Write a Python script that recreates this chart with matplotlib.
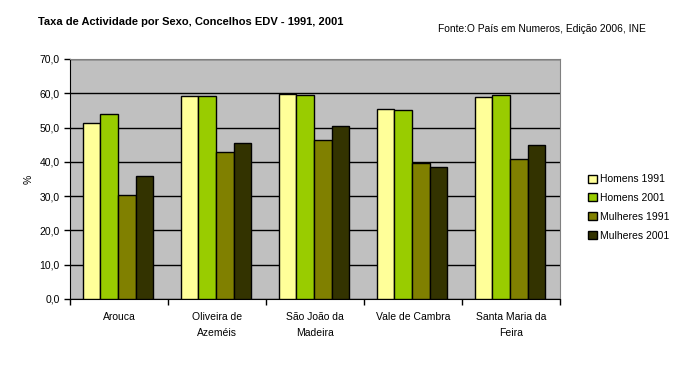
import numpy as np
import matplotlib.pyplot as plt
from matplotlib.ticker import FuncFormatter

plt.rcParams['font.family'] = ['Liberation Sans', 'DejaVu Sans']

concelhos = ["Arouca", "Oliveira de\nAzeméis", "São João da\nMadeira", "Vale de Cambra", "Santa Maria da\nFeira"]
series_names = ["Homens 1991", "Homens 2001", "Mulheres 1991", "Mulheres 2001"]
homens_1991 = [51.2, 59.1, 59.8, 55.3, 58.8]
homens_2001 = [54.1, 59.1, 59.4, 55.0, 59.4]
mulheres_1991 = [30.2, 42.8, 46.4, 39.8, 40.7]
mulheres_2001 = [35.8, 45.4, 50.4, 38.4, 44.8]
colors = ["#FFFF99", "#99CC00", "#808000", "#333300"]

fig = plt.figure(figsize=(6.77, 3.81), dpi=100)
ax = fig.add_axes([70 / 677, 82 / 381, 490 / 677, 240 / 381])
ax.set_facecolor("#C0C0C0")

x = np.arange(len(concelhos))
w = 0.18
data = [homens_1991, homens_2001, mulheres_1991, mulheres_2001]
for i, vals in enumerate(data):
    ax.bar(x + (i - 1.5) * w - 0.01, vals, width=w, color=colors[i], edgecolor="black",
           linewidth=1, label=series_names[i], zorder=3)

ax.set_xlim(-0.5, len(concelhos) - 0.5)
ax.set_ylim(0, 70)
ax.set_yticks(np.arange(0, 71, 10))
ax.yaxis.set_major_formatter(FuncFormatter(lambda v, p: f"{v:.1f}".replace(".", ",")))
ax.grid(axis="y", color="black", linewidth=1, zorder=1)

ax.set_xticks(x)
ax.set_xticklabels(concelhos, fontsize=7.5, linespacing=1.85)
ax.set_xticks(np.arange(-0.5, len(concelhos), 1), minor=True)
ax.tick_params(axis="x", which="major", length=0, pad=9)
ax.tick_params(axis="x", which="minor", length=4, width=1, direction="out")
ax.tick_params(axis="y", length=4, width=1, labelsize=7.5, direction="out")

ax.spines["top"].set_color("#808080")
ax.spines["right"].set_color("#808080")
ax.spines["left"].set_color("black")
ax.spines["bottom"].set_color("black")

ax.set_ylabel("%", fontsize=7.5, labelpad=4)

fig.text(38 / 677, 1 - 22 / 381, "Taxa de Actividade por Sexo, Concelhos EDV - 1991, 2001",
         fontsize=8, fontweight="bold", va="center")
fig.text(438 / 677, 1 - 29 / 381, "Fonte:O País em Numeros, Edição 2006, INE",
         fontsize=7.4, va="center")

leg = fig.legend(loc="upper left", bbox_to_anchor=(584 / 677, 1 - 170 / 381), frameon=False,
                 fontsize=7.5, handlelength=0.8, handleheight=0.8, handletextpad=0.3,
                 labelspacing=0.85, borderaxespad=0)

fig.savefig("out.png", dpi=100)
